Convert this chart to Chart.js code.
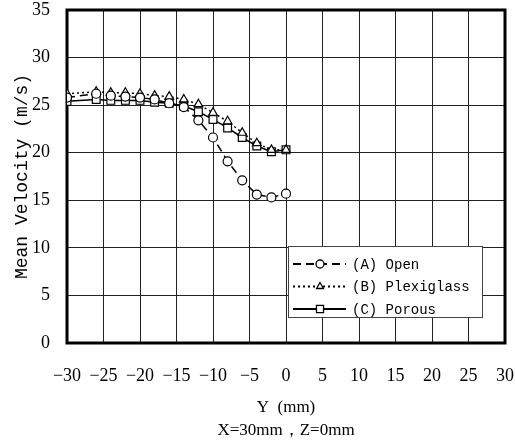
<!DOCTYPE html>
<html><head><meta charset="utf-8">
<script src="https://cdn.jsdelivr.net/npm/chart.js@4/dist/chart.umd.min.js"></script>
<style>html,body{margin:0;padding:0;background:#fff}canvas{display:block}</style>
</head><body>
<canvas id="c" width="515" height="442"></canvas>
<script>
const yPositions = [-30, -26, -24, -22, -20, -18, -16, -14, -12, -10, -8, -6, -4, -2, 0];
const openVel = [25.8, 26.2, 26.0, 25.9, 25.8, 25.6, 25.2, 24.8, 23.4, 21.6, 19.1, 17.1, 15.6, 15.3, 15.7];
const plexiVel = [26.2, 26.4, 26.3, 26.3, 26.2, 26.0, 25.9, 25.6, 25.1, 24.2, 23.3, 22.1, 21.0, 20.3, 20.3];
const porousVel = [25.4, 25.6, 25.5, 25.5, 25.5, 25.3, 25.2, 24.9, 24.3, 23.5, 22.6, 21.6, 20.7, 20.1, 20.3];
const seriesLabels = ['(A) Open', '(B) Plexiglass', '(C) Porous'];
const xTicks = [-30, -25, -20, -15, -10, -5, 0, 5, 10, 15, 20, 25, 30];
const yTicks = [0, 5, 10, 15, 20, 25, 30, 35];

const toPts = v => yPositions.map((x, i) => ({x: x, y: v[i]}));

const frame = {
  id: 'frame',
  beforeDatasetsDraw(chart) {
    const a = chart.chartArea, ctx = chart.ctx;
    ctx.save();
    ctx.strokeStyle = '#000'; ctx.lineWidth = 3;
    ctx.strokeRect(a.left, a.top, a.right - a.left, a.bottom - a.top);
    ctx.restore();
  }
};

function marker(ctx, style, x, y, r) {
  ctx.beginPath();
  if (style === 'circle') ctx.arc(x, y, r, 0, Math.PI * 2);
  else if (style === 'triangle') { ctx.moveTo(x, y - r); ctx.lineTo(x + r * 0.87, y + r * 0.5); ctx.lineTo(x - r * 0.87, y + r * 0.5); ctx.closePath(); }
  else { const s = r * Math.SQRT1_2; ctx.rect(x - s, y - s, 2 * s, 2 * s); }
  ctx.fillStyle = '#fff'; ctx.fill(); ctx.stroke();
}

const legendBox = {
  id: 'legendBox',
  afterDraw(chart) {
    const ctx = chart.ctx;
    const bx = 288, by = 246, bw = 194, bh = 71;
    ctx.save();
    ctx.fillStyle = '#fff'; ctx.fillRect(bx, by, bw, bh);
    ctx.strokeStyle = '#444'; ctx.lineWidth = 1;
    ctx.strokeRect(bx + 0.5, by + 0.5, bw, bh);
    chart.data.datasets.forEach((ds, i) => {
      const y = by + 18 + i * 22.5;
      ctx.strokeStyle = '#000'; ctx.lineWidth = 2;
      ctx.setLineDash(ds.borderDash || []);
      ctx.beginPath(); ctx.moveTo(bx + 5, y); ctx.lineTo(bx + 58, y); ctx.stroke();
      ctx.setLineDash([]); ctx.lineWidth = 1.3;
      marker(ctx, ds.pointStyle, bx + 32, y, ds.pointStyle === 'rect' ? 5 : 4);
      ctx.fillStyle = '#000';
      ctx.font = '14px "Liberation Mono"';
      ctx.textBaseline = 'middle'; ctx.textAlign = 'left';
      ctx.fillText(ds.label, bx + 64, y + 1);
    });
    ctx.restore();
  }
};

new Chart(document.getElementById('c'), {
  type: 'line',
  data: {
    datasets: [
      {label: seriesLabels[2], data: toPts(porousVel), borderColor: '#000', borderWidth: 1.5, pointStyle: 'rect', pointRadius: 5.5, pointBorderWidth: 1.2, pointBackgroundColor: '#fff', pointBorderColor: '#000', borderDash: [], tension: 0},
      {label: seriesLabels[1], data: toPts(plexiVel), borderColor: '#000', borderWidth: 1.5, pointStyle: 'triangle', pointRadius: 5, pointBorderWidth: 1.2, pointBackgroundColor: '#fff', pointBorderColor: '#000', borderDash: [2, 3], tension: 0},
      {label: seriesLabels[0], data: toPts(openVel), borderColor: '#000', borderWidth: 1.5, pointStyle: 'circle', pointRadius: 4.5, pointBorderWidth: 1.2, pointBackgroundColor: '#fff', pointBorderColor: '#000', borderDash: [8, 5], tension: 0}
    ].reverse()
  },
  options: {
    responsive: false,
    animation: false,
    layout: {padding: {top: 10, right: 10, bottom: 0, left: 0}},
    plugins: {legend: {display: false}, tooltip: {enabled: false}},
    scales: {
      x: {
        type: 'linear', min: -30, max: 30,
        afterBuildTicks: s => { s.ticks = xTicks.map(v => ({value: v})); },
        afterFit: s => { s.height = 99; s.paddingLeft = 0; s.paddingRight = 0; },
        grid: {color: '#222', lineWidth: 1, drawTicks: false},
        border: {display: false},
        ticks: {padding: 22, color: '#000', font: {family: '"Liberation Serif"', size: 18},
          callback: v => String(v).replace('-', '\u2212'), maxRotation: 0, autoSkip: false},
        title: {display: true, text: ['Y  (mm)', 'X=30mm\uFF0CZ=0mm'], color: '#000',
          font: {family: '"Liberation Serif"', size: 17, lineHeight: '23px'}, padding: {top: 0, bottom: 0}}
      },
      y: {
        type: 'linear', min: 0, max: 35,
        afterBuildTicks: s => { s.ticks = yTicks.map(v => ({value: v})); },
        afterFit: s => { s.width = 67; s.paddingTop = 0; s.paddingBottom = 0; },
        grid: {color: '#222', lineWidth: 1, drawTicks: false},
        border: {display: false},
        ticks: {padding: 17, color: '#000', font: {family: '"Liberation Serif"', size: 18}},
        title: {display: true, text: 'Mean Velocity (m/s)', color: '#000',
          font: {family: '"Liberation Mono"', size: 18}, padding: {top: 11, bottom: 0}}
      }
    }
  },
  plugins: [frame, legendBox]
});
</script>
</body></html>
